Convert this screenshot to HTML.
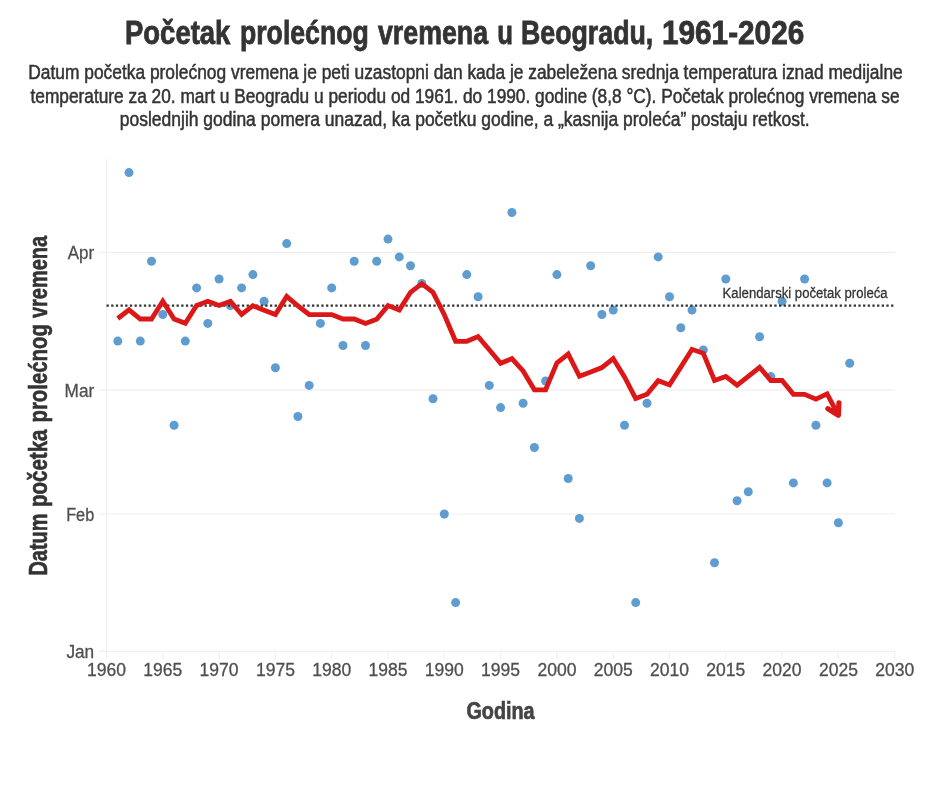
<!DOCTYPE html>
<html lang="sr">
<head>
<meta charset="utf-8">
<title>Početak prolećnog vremena u Beogradu, 1961-2026</title>
<style>
html,body{margin:0;padding:0;background:#ffffff;}
body{width:930px;height:811px;overflow:hidden;}
svg{display:block;filter:blur(0.55px);}
text{font-family:"Liberation Sans",sans-serif;}
.b{font-weight:bold;}
</style>
</head>
<body>
<svg width="930" height="811" viewBox="0 0 930 811">
<rect x="0" y="0" width="930" height="811" fill="#ffffff"/>
<text class="b" y="43.8" font-size="32.4" fill="#333333" stroke="#333333" stroke-width="0.8"><tspan x="124.99" textLength="105.39" lengthAdjust="spacingAndGlyphs">Početak</tspan> <tspan x="239.98" textLength="128.79" lengthAdjust="spacingAndGlyphs">prolećnog</tspan> <tspan x="377.99" textLength="110.12" lengthAdjust="spacingAndGlyphs">vremena</tspan> <tspan x="497.22" textLength="15.69" lengthAdjust="spacingAndGlyphs">u</tspan> <tspan x="520.97" textLength="132.28" lengthAdjust="spacingAndGlyphs">Beogradu,</tspan> <tspan x="661.97" textLength="142.29" lengthAdjust="spacingAndGlyphs">1961-2026</tspan></text>
<text x="28.3" y="79.2" font-size="19.5" fill="#333333" stroke="#333333" stroke-width="0.5" textLength="874.4" lengthAdjust="spacingAndGlyphs">Datum početka prolećnog vremena je peti uzastopni dan kada je zabeležena srednja temperatura iznad medijalne</text>
<text x="30.5" y="102.7" font-size="19.5" fill="#333333" stroke="#333333" stroke-width="0.5" textLength="869.0" lengthAdjust="spacingAndGlyphs">temperature za 20. mart u Beogradu u periodu od 1961. do 1990. godine (8,8 °C). Početak prolećnog vremena se</text>
<text x="119.8" y="126.1" font-size="19.5" fill="#333333" stroke="#333333" stroke-width="0.5" textLength="689.8" lengthAdjust="spacingAndGlyphs">poslednjih godina pomera unazad, ka početku godine, a „kasnija proleća” postaju retkost.</text>
<g stroke="#f0f0f0" stroke-width="1.2" fill="none">
<line x1="98.4" y1="651.4" x2="894.9" y2="651.4"/>
<line x1="98.4" y1="514.0" x2="894.9" y2="514.0"/>
<line x1="98.4" y1="389.9" x2="894.9" y2="389.9"/>
<line x1="98.4" y1="252.4" x2="894.9" y2="252.4"/>
<line x1="106.5" y1="158.7" x2="106.5" y2="651.4"/>
<line x1="106.5" y1="651.4" x2="106.5" y2="659.0"/>
<line x1="162.8" y1="651.4" x2="162.8" y2="659.0"/>
<line x1="219.1" y1="651.4" x2="219.1" y2="659.0"/>
<line x1="275.4" y1="651.4" x2="275.4" y2="659.0"/>
<line x1="331.7" y1="651.4" x2="331.7" y2="659.0"/>
<line x1="388.0" y1="651.4" x2="388.0" y2="659.0"/>
<line x1="444.3" y1="651.4" x2="444.3" y2="659.0"/>
<line x1="500.6" y1="651.4" x2="500.6" y2="659.0"/>
<line x1="556.9" y1="651.4" x2="556.9" y2="659.0"/>
<line x1="613.2" y1="651.4" x2="613.2" y2="659.0"/>
<line x1="669.5" y1="651.4" x2="669.5" y2="659.0"/>
<line x1="725.8" y1="651.4" x2="725.8" y2="659.0"/>
<line x1="782.1" y1="651.4" x2="782.1" y2="659.0"/>
<line x1="838.4" y1="651.4" x2="838.4" y2="659.0"/>
<line x1="894.7" y1="651.4" x2="894.7" y2="659.0"/>
</g>
<text x="67.8" y="259.0" font-size="18.2" fill="#4f4f4f" stroke="#4f4f4f" stroke-width="0.3" textLength="26.4" lengthAdjust="spacingAndGlyphs">Apr</text>
<text x="64.6" y="396.5" font-size="18.2" fill="#4f4f4f" stroke="#4f4f4f" stroke-width="0.3" textLength="29.6" lengthAdjust="spacingAndGlyphs">Mar</text>
<text x="66.2" y="520.6" font-size="18.2" fill="#4f4f4f" stroke="#4f4f4f" stroke-width="0.3" textLength="28.0" lengthAdjust="spacingAndGlyphs">Feb</text>
<text x="66.4" y="658.0" font-size="18.2" fill="#4f4f4f" stroke="#4f4f4f" stroke-width="0.3" textLength="27.8" lengthAdjust="spacingAndGlyphs">Jan</text>
<text x="87.0" y="676.1" font-size="18.3" fill="#4f4f4f" stroke="#4f4f4f" stroke-width="0.3" textLength="39.0" lengthAdjust="spacingAndGlyphs">1960</text>
<text x="143.3" y="676.1" font-size="18.3" fill="#4f4f4f" stroke="#4f4f4f" stroke-width="0.3" textLength="39.0" lengthAdjust="spacingAndGlyphs">1965</text>
<text x="199.6" y="676.1" font-size="18.3" fill="#4f4f4f" stroke="#4f4f4f" stroke-width="0.3" textLength="39.0" lengthAdjust="spacingAndGlyphs">1970</text>
<text x="255.9" y="676.1" font-size="18.3" fill="#4f4f4f" stroke="#4f4f4f" stroke-width="0.3" textLength="39.0" lengthAdjust="spacingAndGlyphs">1975</text>
<text x="312.2" y="676.1" font-size="18.3" fill="#4f4f4f" stroke="#4f4f4f" stroke-width="0.3" textLength="39.0" lengthAdjust="spacingAndGlyphs">1980</text>
<text x="368.5" y="676.1" font-size="18.3" fill="#4f4f4f" stroke="#4f4f4f" stroke-width="0.3" textLength="39.0" lengthAdjust="spacingAndGlyphs">1985</text>
<text x="424.8" y="676.1" font-size="18.3" fill="#4f4f4f" stroke="#4f4f4f" stroke-width="0.3" textLength="39.0" lengthAdjust="spacingAndGlyphs">1990</text>
<text x="481.1" y="676.1" font-size="18.3" fill="#4f4f4f" stroke="#4f4f4f" stroke-width="0.3" textLength="39.0" lengthAdjust="spacingAndGlyphs">1995</text>
<text x="537.4" y="676.1" font-size="18.3" fill="#4f4f4f" stroke="#4f4f4f" stroke-width="0.3" textLength="39.0" lengthAdjust="spacingAndGlyphs">2000</text>
<text x="593.7" y="676.1" font-size="18.3" fill="#4f4f4f" stroke="#4f4f4f" stroke-width="0.3" textLength="39.0" lengthAdjust="spacingAndGlyphs">2005</text>
<text x="650.0" y="676.1" font-size="18.3" fill="#4f4f4f" stroke="#4f4f4f" stroke-width="0.3" textLength="39.0" lengthAdjust="spacingAndGlyphs">2010</text>
<text x="706.3" y="676.1" font-size="18.3" fill="#4f4f4f" stroke="#4f4f4f" stroke-width="0.3" textLength="39.0" lengthAdjust="spacingAndGlyphs">2015</text>
<text x="762.6" y="676.1" font-size="18.3" fill="#4f4f4f" stroke="#4f4f4f" stroke-width="0.3" textLength="39.0" lengthAdjust="spacingAndGlyphs">2020</text>
<text x="818.9" y="676.1" font-size="18.3" fill="#4f4f4f" stroke="#4f4f4f" stroke-width="0.3" textLength="39.0" lengthAdjust="spacingAndGlyphs">2025</text>
<text x="875.2" y="676.1" font-size="18.3" fill="#4f4f4f" stroke="#4f4f4f" stroke-width="0.3" textLength="39.0" lengthAdjust="spacingAndGlyphs">2030</text>
<text class="b" x="466.4" y="718.8" font-size="24.6" fill="#444444" stroke="#444444" stroke-width="0.7" textLength="68.2" lengthAdjust="spacingAndGlyphs">Godina</text>
<text class="b" transform="translate(46.8,574.5) rotate(-90)" y="0" font-size="26.3" fill="#333333" stroke="#333333" stroke-width="0.6"><tspan x="-1.03" textLength="61.85" lengthAdjust="spacingAndGlyphs">Datum</tspan> <tspan x="67.49" textLength="77.45" lengthAdjust="spacingAndGlyphs">početka</tspan> <tspan x="151.97" textLength="98.35" lengthAdjust="spacingAndGlyphs">prolećnog</tspan> <tspan x="256.5" textLength="82.07" lengthAdjust="spacingAndGlyphs">vremena</tspan></text>
<g fill="#5f9dd1">
<circle cx="117.8" cy="341.1" r="4.5"/>
<circle cx="129.0" cy="172.6" r="4.5"/>
<circle cx="140.3" cy="341.1" r="4.5"/>
<circle cx="151.5" cy="261.3" r="4.5"/>
<circle cx="162.8" cy="314.5" r="4.5"/>
<circle cx="174.1" cy="425.3" r="4.5"/>
<circle cx="185.3" cy="341.1" r="4.5"/>
<circle cx="196.6" cy="287.9" r="4.5"/>
<circle cx="207.8" cy="323.4" r="4.5"/>
<circle cx="219.1" cy="279.0" r="4.5"/>
<circle cx="230.4" cy="305.6" r="4.5"/>
<circle cx="241.6" cy="287.9" r="4.5"/>
<circle cx="252.9" cy="274.6" r="4.5"/>
<circle cx="264.1" cy="301.2" r="4.5"/>
<circle cx="275.4" cy="367.7" r="4.5"/>
<circle cx="286.7" cy="243.6" r="4.5"/>
<circle cx="297.9" cy="416.5" r="4.5"/>
<circle cx="309.2" cy="385.4" r="4.5"/>
<circle cx="320.4" cy="323.4" r="4.5"/>
<circle cx="331.7" cy="287.9" r="4.5"/>
<circle cx="343.0" cy="345.5" r="4.5"/>
<circle cx="354.2" cy="261.3" r="4.5"/>
<circle cx="365.5" cy="345.5" r="4.5"/>
<circle cx="376.7" cy="261.3" r="4.5"/>
<circle cx="388.0" cy="239.1" r="4.5"/>
<circle cx="399.3" cy="256.9" r="4.5"/>
<circle cx="410.5" cy="265.7" r="4.5"/>
<circle cx="421.8" cy="283.5" r="4.5"/>
<circle cx="433.0" cy="398.7" r="4.5"/>
<circle cx="444.3" cy="514.0" r="4.5"/>
<circle cx="455.6" cy="602.6" r="4.5"/>
<circle cx="466.8" cy="274.6" r="4.5"/>
<circle cx="478.1" cy="296.8" r="4.5"/>
<circle cx="489.3" cy="385.4" r="4.5"/>
<circle cx="500.6" cy="407.6" r="4.5"/>
<circle cx="511.9" cy="212.5" r="4.5"/>
<circle cx="523.1" cy="403.2" r="4.5"/>
<circle cx="534.4" cy="447.5" r="4.5"/>
<circle cx="545.6" cy="381.0" r="4.5"/>
<circle cx="556.9" cy="274.6" r="4.5"/>
<circle cx="568.2" cy="478.5" r="4.5"/>
<circle cx="579.4" cy="518.4" r="4.5"/>
<circle cx="590.7" cy="265.7" r="4.5"/>
<circle cx="601.9" cy="314.5" r="4.5"/>
<circle cx="613.2" cy="310.1" r="4.5"/>
<circle cx="624.5" cy="425.3" r="4.5"/>
<circle cx="635.7" cy="602.6" r="4.5"/>
<circle cx="647.0" cy="403.2" r="4.5"/>
<circle cx="658.2" cy="256.9" r="4.5"/>
<circle cx="669.5" cy="296.8" r="4.5"/>
<circle cx="680.8" cy="327.8" r="4.5"/>
<circle cx="692.0" cy="310.1" r="4.5"/>
<circle cx="703.3" cy="350.0" r="4.5"/>
<circle cx="714.5" cy="562.7" r="4.5"/>
<circle cx="725.8" cy="279.0" r="4.5"/>
<circle cx="737.1" cy="500.7" r="4.5"/>
<circle cx="748.3" cy="491.8" r="4.5"/>
<circle cx="759.6" cy="336.7" r="4.5"/>
<circle cx="770.8" cy="376.6" r="4.5"/>
<circle cx="782.1" cy="301.2" r="4.5"/>
<circle cx="793.4" cy="482.9" r="4.5"/>
<circle cx="804.6" cy="279.0" r="4.5"/>
<circle cx="815.9" cy="425.3" r="4.5"/>
<circle cx="827.1" cy="482.9" r="4.5"/>
<circle cx="838.4" cy="522.8" r="4.5"/>
<circle cx="849.7" cy="363.3" r="4.5"/>
</g>
<line x1="106.5" y1="305.6" x2="894.9" y2="305.6" stroke="#333333" stroke-width="2.3" stroke-dasharray="2.3 2.37"/>
<text x="722.6" y="298.4" font-size="15.5" fill="#333333" stroke="#333333" stroke-width="0.3" textLength="165" lengthAdjust="spacingAndGlyphs">Kalendarski početak proleća</text>
<polyline points="117.8,318.5 129.0,309.8 140.3,319.0 151.5,319.0 162.8,301.3 174.1,319.0 185.3,323.3 196.6,305.5 207.8,301.3 219.1,305.5 230.4,301.3 241.6,314.5 252.9,305.7 264.1,310.2 275.4,314.5 286.7,296.4 297.9,305.8 309.2,314.5 320.4,314.6 331.7,314.6 343.0,319.0 354.2,319.0 365.5,323.5 376.7,319.2 388.0,305.6 399.3,310.1 410.5,292.3 421.8,283.7 433.0,292.4 444.3,314.7 455.6,341.3 466.8,341.3 478.1,336.6 489.3,349.8 500.6,363.3 511.9,358.6 523.1,371.0 534.4,389.8 545.6,389.8 556.9,362.9 568.2,354.0 579.4,376.3 590.7,372.0 601.9,367.6 613.2,358.6 624.5,377.0 635.7,398.5 647.0,394.2 658.2,380.7 669.5,384.9 680.8,367.1 692.0,349.3 703.3,353.3 714.5,380.5 725.8,376.4 737.1,385.2 748.3,376.4 759.6,367.3 770.8,380.5 782.1,380.5 793.4,394.3 804.6,394.3 815.9,399.2 827.1,393.8 838.4,415.3" fill="none" stroke="#dc1717" stroke-width="4.8" stroke-linejoin="miter" stroke-miterlimit="10" stroke-linecap="butt"/>
<polyline points="838.9,402.9 838.4,415.3 827.9,408.7" fill="none" stroke="#dc1717" stroke-width="5.2" stroke-linejoin="round" stroke-linecap="round"/>
</svg>
</body>
</html>
